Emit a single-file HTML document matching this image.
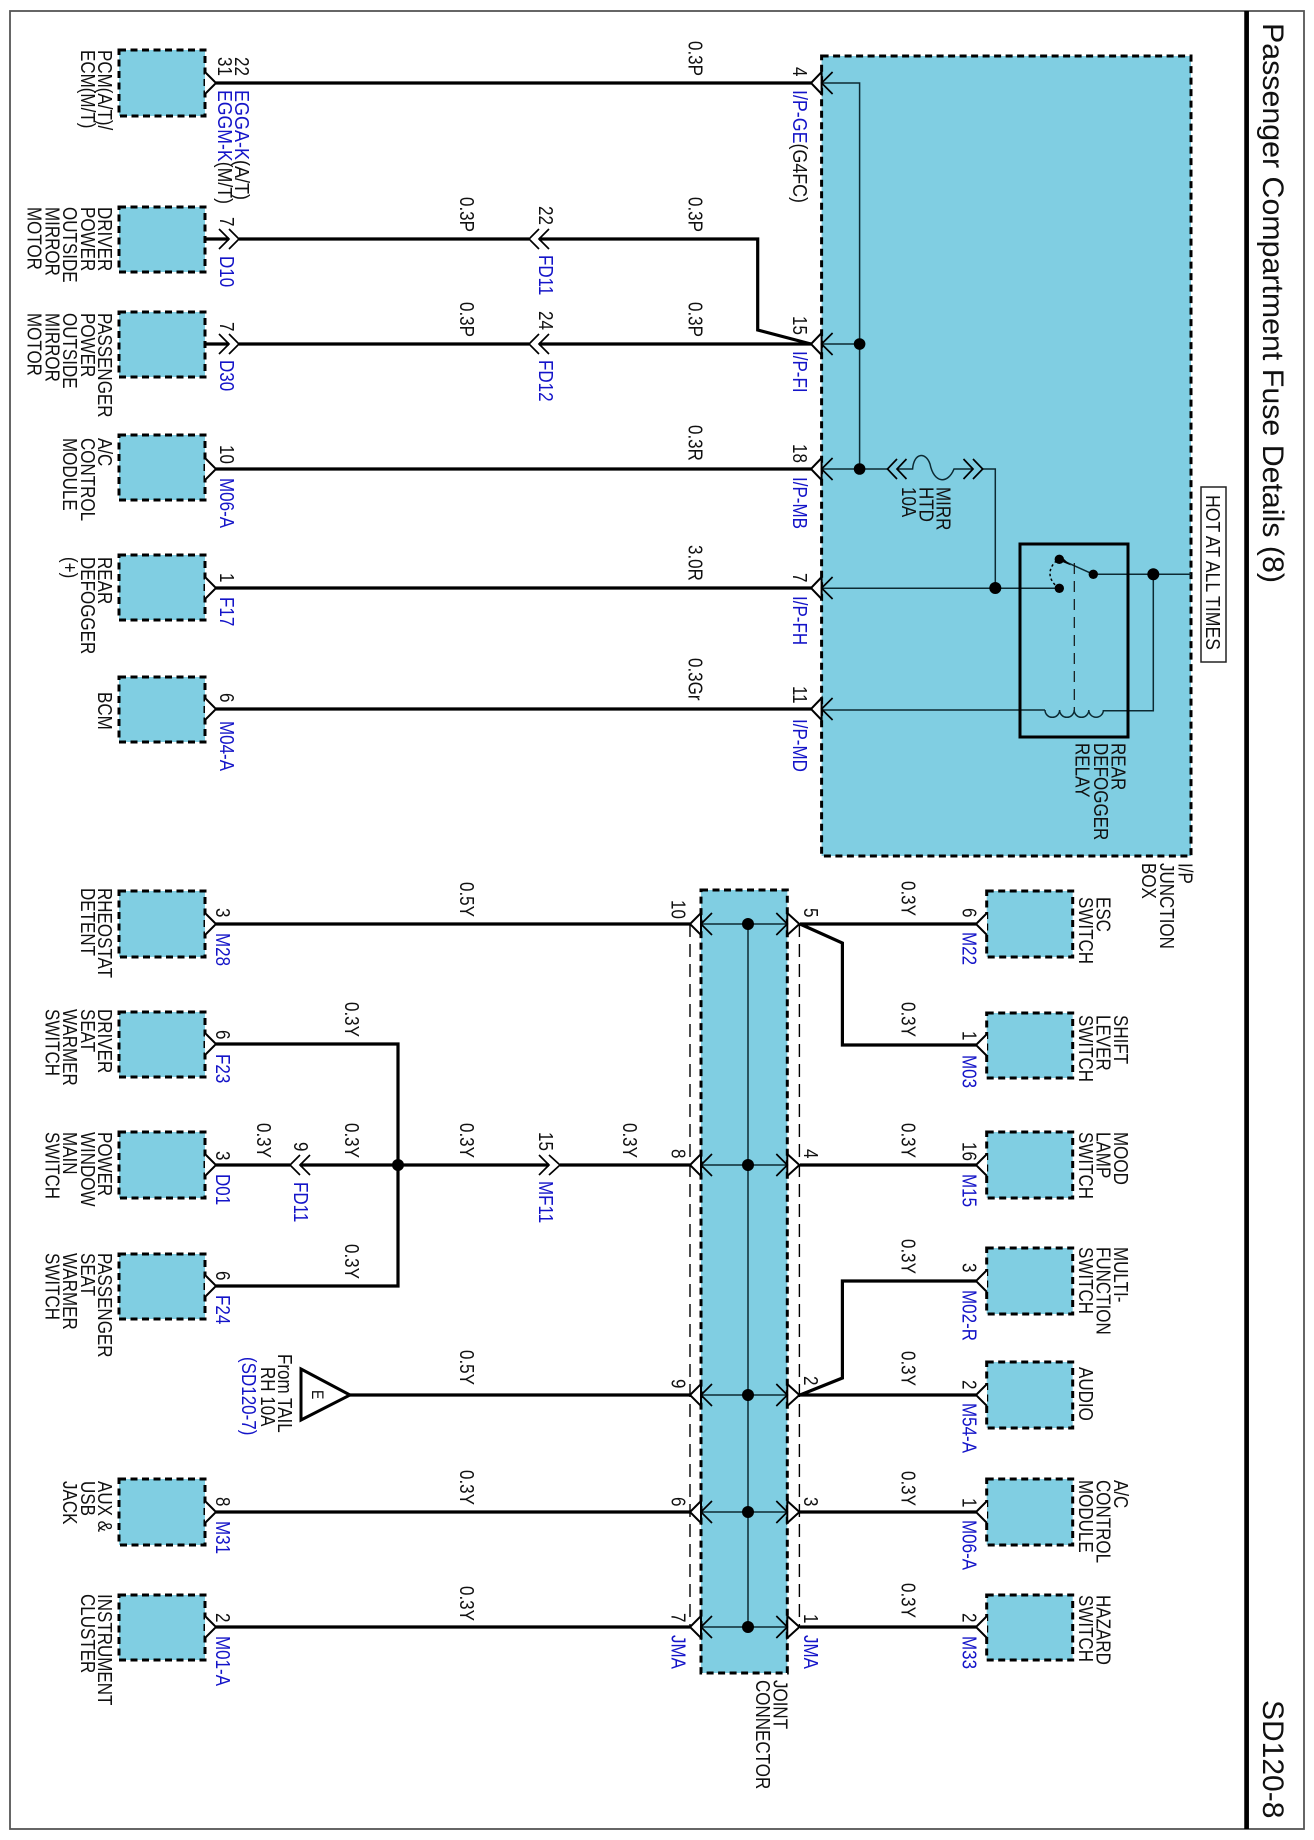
<!DOCTYPE html>
<html><head><meta charset="utf-8"><style>
html,body{margin:0;padding:0;background:#fff}
svg{display:block}
text{font-family:"Liberation Sans",sans-serif;font-size:17px;fill:#111;transform-box:fill-box;transform-origin:0 81%;transform:scale(1,1.17)}
.b,.b tspan{fill:#1414c8}
tspan.k{fill:#111}
text.t{font-size:30px;transform:none}
.box{fill:#80cee2;stroke:#000;stroke-width:3;stroke-dasharray:7 4.5}
.w{fill:none;stroke:#000;stroke-width:3.2}
.n{fill:none;stroke:#0c2a33;stroke-width:1.5}
.c{fill:none;stroke:#000;stroke-width:1.7}
.p{fill:#fff;stroke:#000;stroke-width:2}
</style></head><body>
<svg width="1314" height="1840" viewBox="0 0 1314 1840" xmlns="http://www.w3.org/2000/svg">
<rect width="1314" height="1840" fill="#fff"/>
<rect x="10" y="11" width="1294" height="1818" fill="none" stroke="#555" stroke-width="1.8"/>
<line x1="1246.6" y1="11" x2="1246.6" y2="1829" stroke="#000" stroke-width="4.7"/>

<!-- containers -->
<rect class="box" x="821.6" y="56" width="369.4" height="800"/>
<rect class="box" x="701" y="890" width="86.3" height="783"/>
<g>
<rect class="box" x="119" y="50" width="86" height="66"/>
<rect class="box" x="119" y="207" width="86" height="65"/>
<rect class="box" x="119" y="312" width="86" height="65"/>
<rect class="box" x="119" y="435" width="86" height="65"/>
<rect class="box" x="119" y="555" width="86" height="65"/>
<rect class="box" x="119" y="677" width="86" height="65"/>
<rect class="box" x="119" y="891" width="86" height="66"/>
<rect class="box" x="119" y="1012" width="86" height="65"/>
<rect class="box" x="119" y="1132" width="86" height="66"/>
<rect class="box" x="119" y="1254" width="86" height="65"/>
<rect class="box" x="119" y="1479" width="86" height="66"/>
<rect class="box" x="119" y="1595" width="86" height="65"/>
<rect class="box" x="986.7" y="891" width="86" height="66"/>
<rect class="box" x="986.7" y="1013" width="86" height="65"/>
<rect class="box" x="986.7" y="1132" width="86" height="66"/>
<rect class="box" x="986.7" y="1248" width="86" height="66"/>
<rect class="box" x="986.7" y="1362" width="86" height="66"/>
<rect class="box" x="986.7" y="1479" width="86" height="66"/>
<rect class="box" x="986.7" y="1595" width="86" height="65"/>
</g>

<!-- dashed shields of joint connector -->
<line x1="690" y1="924" x2="690" y2="1627" stroke="#000" stroke-width="1.4" stroke-dasharray="13 7"/>
<line x1="799.4" y1="924" x2="799.4" y2="1627" stroke="#000" stroke-width="1.4" stroke-dasharray="13 7"/>

<!-- thick wires -->
<g>
<path class="w" d="M216 83H811"/>
<path class="w" d="M205 239H229M239 239H529M539 239H757.7V330L811 344"/>
<path class="w" d="M205 344H229M239 344H529M539 344H811"/>
<path class="w" d="M216 469H811"/>
<path class="w" d="M216 588H811"/>
<path class="w" d="M216 709H811"/>
<path class="w" d="M216 924H690"/>
<path class="w" d="M216 1044H398V1286H216"/>
<path class="w" d="M216 1165H290M300 1165H549M560 1165H690"/>
<path class="w" d="M350 1395H690"/>
<path class="w" d="M216 1512H690"/>
<path class="w" d="M216 1627H690"/>
<path class="w" d="M800 924H976M800 924L842.4 943V1045H976"/>
<path class="w" d="M800 1165H976"/>
<path class="w" d="M976 1281H842.4V1378L800 1395"/>
<path class="w" d="M800 1395H976"/>
<path class="w" d="M800 1512H976"/>
<path class="w" d="M800 1627H976"/>
</g>

<!-- thin internal wires -->
<g>
<path class="n" d="M821.6 83H859.6V469"/>
<path class="n" d="M821.6 344H859.6"/>
<path class="n" d="M821.6 469H887.5"/>
<path class="n" d="M897 469H912.6C914 452 926 452 930 464C934 484 948 484 954 469H973"/>
<path class="n" d="M982.7 469H995.3V588"/>
<path class="n" d="M821.6 588.3H1059"/>
<path class="n" d="M1093.3 574.3H1191"/>
<path class="n" d="M1153.3 574.3V710.7H1103.3"/>
<path class="n" d="M821.6 710H1045"/>
<path class="n" d="M1045 710a7.3 7.3 0 0 0 14.6 0a7.3 7.3 0 0 0 14.6 0a7.3 7.3 0 0 0 14.6 0a7.3 7.3 0 0 0 14.6 0"/>
<path class="n" d="M1093.3 574.3L1060 559.3"/>
<path d="M1063 558L1071 565.5L1060 561Z" fill="#000"/>
<path d="M1074.3 563V710" fill="none" stroke="#111" stroke-width="1.2" stroke-dasharray="11 7"/>
<path d="M1059 588C1047 580 1047 567 1059 559" fill="none" stroke="#000" stroke-width="1.5" stroke-dasharray="2.5 2.5"/>
<rect x="1020" y="544" width="108" height="193" fill="none" stroke="#000" stroke-width="3"/>
<path class="n" d="M748 924V1627"/>
<path class="n" d="M701 924H787M701 1165H787M701 1395H787M701 1512H787M701 1627H787"/>
</g>

<!-- dots -->
<g fill="#000">
<circle cx="859.6" cy="344" r="5.8"/><circle cx="859.6" cy="469" r="5.8"/>
<circle cx="995.3" cy="588" r="6"/><circle cx="1059.3" cy="588.3" r="4.7"/>
<circle cx="1059.3" cy="559.3" r="4.7"/><circle cx="1093.3" cy="574.3" r="4.7"/><circle cx="1153.3" cy="574.3" r="6"/>
<circle cx="398" cy="1165" r="6"/>
<circle cx="748" cy="924" r="6"/><circle cx="748" cy="1165" r="6"/><circle cx="748" cy="1395" r="6"/><circle cx="748" cy="1512" r="6"/><circle cx="748" cy="1627" r="6"/>
</g>

<!-- module pins -->
<g>
<path class="p" d="M205 72L216 83L205 94"/>
<path class="p" d="M205 458L216 469L205 480"/>
<path class="p" d="M205 577L216 588L205 599"/>
<path class="p" d="M205 698L216 709L205 720"/>
<path class="p" d="M205 913L216 924L205 935"/>
<path class="p" d="M205 1033L216 1044L205 1055"/>
<path class="p" d="M205 1154L216 1165L205 1176"/>
<path class="p" d="M205 1275L216 1286L205 1297"/>
<path class="p" d="M205 1501L216 1512L205 1523"/>
<path class="p" d="M205 1616L216 1627L205 1638"/>
<path class="p" d="M987 913L976 924L987 935"/>
<path class="p" d="M987 1034L976 1045L987 1056"/>
<path class="p" d="M987 1154L976 1165L987 1176"/>
<path class="p" d="M987 1270L976 1281L987 1292"/>
<path class="p" d="M987 1384L976 1395L987 1406"/>
<path class="p" d="M987 1501L976 1512L987 1523"/>
<path class="p" d="M987 1616L976 1627L987 1638"/>
</g>

<!-- double chevrons -->
<g>
<path class="c" d="M219 229L229 239L219 249M229 229L239 239L229 249"/>
<path class="c" d="M219 334L229 344L219 354M229 334L239 344L229 354"/>
<path class="c" d="M539 229L529 239L539 249M549 229L539 239L549 249"/>
<path class="c" d="M539 334L529 344L539 354M549 334L539 344L549 354"/>
<path class="c" d="M300 1155L290 1165L300 1175M310 1155L300 1165L310 1175"/>
<path class="c" d="M539 1155L549 1165L539 1175M549 1155L560 1165L549 1175"/>
<path class="c" d="M897 459L887.5 469L897 479M906.5 459L897 469L906.5 479"/>
<path class="c" d="M963.5 459L973 469L963.5 479M973 459L982.7 469L973 479"/>
</g>

<!-- I/P box pins -->
<g>
<path class="p" d="M821.6 72L811 83L821.6 94Z"/><path class="c" d="M832.6 72L821.6 83L832.6 94"/>
<path class="p" d="M821.6 333L811 344L821.6 355Z"/><path class="c" d="M832.6 333L821.6 344L832.6 355"/>
<path class="p" d="M821.6 458L811 469L821.6 480Z"/><path class="c" d="M832.6 458L821.6 469L832.6 480"/>
<path class="p" d="M821.6 577L811 588L821.6 599Z"/><path class="c" d="M832.6 577L821.6 588L832.6 599"/>
<path class="p" d="M821.6 698L811 709L821.6 720Z"/><path class="c" d="M832.6 698L821.6 709L832.6 720"/>
</g>

<!-- joint pins -->
<g>
<path class="p" d="M701 913L690 924L701 935Z"/><path class="c" d="M712 913L701 924L712 935"/>
<path class="p" d="M701 1154L690 1165L701 1176Z"/><path class="c" d="M712 1154L701 1165L712 1176"/>
<path class="p" d="M701 1384L690 1395L701 1406Z"/><path class="c" d="M712 1384L701 1395L712 1406"/>
<path class="p" d="M701 1501L690 1512L701 1523Z"/><path class="c" d="M712 1501L701 1512L712 1523"/>
<path class="p" d="M701 1616L690 1627L701 1638Z"/><path class="c" d="M712 1616L701 1627L712 1638"/>
<path class="p" d="M787.3 913L799.4 924L787.3 935Z"/><path class="c" d="M776.3 913L787.3 924L776.3 935"/>
<path class="p" d="M787.3 1154L799.4 1165L787.3 1176Z"/><path class="c" d="M776.3 1154L787.3 1165L776.3 1176"/>
<path class="p" d="M787.3 1384L799.4 1395L787.3 1406Z"/><path class="c" d="M776.3 1384L787.3 1395L776.3 1406"/>
<path class="p" d="M787.3 1501L799.4 1512L787.3 1523Z"/><path class="c" d="M776.3 1501L787.3 1512L776.3 1523"/>
<path class="p" d="M787.3 1616L799.4 1627L787.3 1638Z"/><path class="c" d="M776.3 1616L787.3 1627L776.3 1638"/>
</g>

<!-- triangle E -->
<path d="M301 1369L350 1395L301 1420Z" fill="#fff" stroke="#000" stroke-width="3"/>
<rect x="1201" y="487" width="25" height="175" fill="#fff" stroke="#222" stroke-width="1.5"/>

<!-- all text rotated: x=screenY, y=-screenX -->
<g transform="rotate(90)">
<text class="t" x="23" y="-1263" textLength="560" lengthAdjust="spacingAndGlyphs">Passenger Compartment Fuse Details (8)</text>
<text class="t" x="1700" y="-1263">SD120-8</text>
<text x="495" y="-1206" textLength="155" lengthAdjust="spacingAndGlyphs">HOT AT ALL TIMES</text>

<!-- left module labels -->
<text x="50" y="-98">PCM(A/T)/</text><text x="50" y="-81">ECM(M/T)</text>
<text x="207" y="-98">DRIVER</text><text x="207" y="-81">POWER</text><text x="207" y="-63">OUTSIDE</text><text x="207" y="-45.5">MIRROR</text><text x="207" y="-27.5">MOTOR</text>
<text x="313" y="-98">PASSENGER</text><text x="313" y="-81">POWER</text><text x="313" y="-63">OUTSIDE</text><text x="313" y="-45.5">MIRROR</text><text x="313" y="-27.5">MOTOR</text>
<text x="438" y="-98">A/C</text><text x="438" y="-81">CONTROL</text><text x="438" y="-63">MODULE</text>
<text x="557" y="-98">REAR</text><text x="557" y="-81">DEFOGGER</text><text x="557" y="-63">(+)</text>
<text x="692" y="-98">BCM</text>
<text x="888" y="-98">RHEOSTAT</text><text x="888" y="-81">DETENT</text>
<text x="1009" y="-98">DRIVER</text><text x="1009" y="-81">SEAT</text><text x="1009" y="-63">WARMER</text><text x="1009" y="-45.5">SWITCH</text>
<text x="1132" y="-98">POWER</text><text x="1132" y="-81">WINDOW</text><text x="1132" y="-63">MAIN</text><text x="1132" y="-45.5">SWITCH</text>
<text x="1253" y="-98">PASSENGER</text><text x="1253" y="-81">SEAT</text><text x="1253" y="-63">WARMER</text><text x="1253" y="-45.5">SWITCH</text>
<text x="1481" y="-98">AUX &amp;</text><text x="1481" y="-81">USB</text><text x="1481" y="-63">JACK</text>
<text x="1594" y="-98">INSTRUMENT</text><text x="1594" y="-81">CLUSTER</text>

<!-- right module labels -->
<text x="897" y="-1096.7">ESC</text><text x="897" y="-1079">SWITCH</text>
<text x="1015" y="-1114">SHIFT</text><text x="1015" y="-1096.7">LEVER</text><text x="1015" y="-1079">SWITCH</text>
<text x="1132" y="-1114">MOOD</text><text x="1132" y="-1096.7">LAMP</text><text x="1132" y="-1079">SWITCH</text>
<text x="1247" y="-1114">MULTI-</text><text x="1247" y="-1096.7">FUNCTION</text><text x="1247" y="-1079">SWITCH</text>
<text x="1367" y="-1079">AUDIO</text>
<text x="1480" y="-1114">A/C</text><text x="1480" y="-1096.7">CONTROL</text><text x="1480" y="-1079">MODULE</text>
<text x="1595" y="-1096.7">HAZARD</text><text x="1595" y="-1079">SWITCH</text>

<!-- container labels -->
<text x="863" y="-1178.5">I/P</text><text x="863" y="-1160">JUNCTION</text><text x="863" y="-1142">BOX</text>
<text x="1680" y="-773.6">JOINT</text><text x="1680" y="-756">CONNECTOR</text>
<text x="743" y="-1111.7">REAR</text><text x="743" y="-1094">DEFOGGER</text><text x="743" y="-1075.4">RELAY</text>
<text x="487" y="-936.4">MIRR</text><text x="487" y="-919.7">HTD</text><text x="487" y="-902.2">10A</text>

<!-- left pin numbers / connector ids -->
<text x="57" y="-235">22</text><text x="57" y="-218">31</text>
<text class="b" x="90" y="-235" textLength="110" lengthAdjust="spacingAndGlyphs">EGGA-K<tspan class="k">(A/T)</tspan></text>
<text class="b" x="90" y="-218" textLength="114" lengthAdjust="spacingAndGlyphs">EGGM-K<tspan class="k">(M/T)</tspan></text>
<text x="217" y="-220">7</text><text class="b" x="256" y="-220">D10</text>
<text x="322" y="-220">7</text><text class="b" x="360" y="-220">D30</text>
<text x="445" y="-220">10</text><text class="b" x="478" y="-220">M06-A</text>
<text x="573" y="-220">1</text><text class="b" x="597" y="-220">F17</text>
<text x="693" y="-220">6</text><text class="b" x="721" y="-220">M04-A</text>
<text x="908" y="-216">3</text><text class="b" x="933" y="-216">M28</text>
<text x="1030" y="-216">6</text><text class="b" x="1054" y="-216">F23</text>
<text x="1151" y="-216">3</text><text class="b" x="1174" y="-216">D01</text>
<text x="1271" y="-216">6</text><text class="b" x="1295" y="-216">F24</text>
<text x="1497" y="-216">8</text><text class="b" x="1521" y="-216">M31</text>
<text x="1613" y="-216">2</text><text class="b" x="1636" y="-216">M01-A</text>

<!-- inline connectors -->
<text x="206" y="-539">22</text><text class="b" x="255" y="-539">FD11</text>
<text x="311" y="-539">24</text><text class="b" x="360" y="-539">FD12</text>
<text x="1142" y="-294">9</text><text class="b" x="1182" y="-294">FD11</text>
<text x="1132" y="-539">15</text><text class="b" x="1181" y="-539">MF11</text>

<!-- wire specs -->
<text x="197" y="-460">0.3P</text><text x="302" y="-460">0.3P</text>
<text x="41" y="-688.4">0.3P</text><text x="197" y="-688.4">0.3P</text><text x="302" y="-688.4">0.3P</text>
<text x="425" y="-688.4">0.3R</text><text x="545" y="-688.4">3.0R</text><text x="658" y="-688.4">0.3Gr</text>
<text x="882" y="-460">0.5Y</text>
<text x="1002" y="-345">0.3Y</text><text x="1123" y="-345">0.3Y</text><text x="1244" y="-345">0.3Y</text>
<text x="1123" y="-257">0.3Y</text><text x="1123" y="-460">0.3Y</text><text x="1123" y="-623">0.3Y</text>
<text x="1350" y="-460">0.5Y</text><text x="1470" y="-460">0.3Y</text><text x="1586" y="-460">0.3Y</text>
<text x="881" y="-901.3">0.3Y</text><text x="1002" y="-901.3">0.3Y</text><text x="1123" y="-901.3">0.3Y</text><text x="1239" y="-901.3">0.3Y</text>
<text x="1351" y="-901.3">0.3Y</text><text x="1471" y="-901.3">0.3Y</text><text x="1583" y="-901.3">0.3Y</text>

<!-- I/P pins -->
<text x="67" y="-792.8">4</text><text class="b" x="90" y="-792.8" textLength="113" lengthAdjust="spacingAndGlyphs">I/P-GE<tspan class="k">(G4FC)</tspan></text>
<text x="316" y="-792.8">15</text><text class="b" x="351" y="-792.8">I/P-FI</text>
<text x="444" y="-792.8">18</text><text class="b" x="477" y="-792.8">I/P-MB</text>
<text x="573" y="-792.8">7</text><text class="b" x="596" y="-792.8">I/P-FH</text>
<text x="686" y="-792.8">11</text><text class="b" x="719" y="-792.8">I/P-MD</text>

<!-- joint pins -->
<text x="900" y="-671.7">10</text><text x="1149" y="-671.7">8</text><text x="1379" y="-671.7">9</text><text x="1497" y="-671.7">6</text><text x="1613" y="-671.7">7</text>
<text class="b" x="1635" y="-671.7">JMA</text>
<text x="908" y="-804">5</text><text x="1149" y="-804">4</text><text x="1376" y="-804">2</text><text x="1497" y="-804">3</text><text x="1614" y="-804">1</text>
<text class="b" x="1635" y="-804">JMA</text>

<!-- right pins -->
<text x="908" y="-962.5">6</text><text class="b" x="932" y="-962.5">M22</text>
<text x="1031" y="-962.5">1</text><text class="b" x="1055" y="-962.5">M03</text>
<text x="1142" y="-962.5">16</text><text class="b" x="1174" y="-962.5">M15</text>
<text x="1263" y="-962.5">3</text><text class="b" x="1290" y="-962.5">M02-R</text>
<text x="1380" y="-962.5">2</text><text class="b" x="1403" y="-962.5">M54-A</text>
<text x="1498" y="-962.5">1</text><text class="b" x="1520" y="-962.5">M06-A</text>
<text x="1613" y="-962.5">2</text><text class="b" x="1636" y="-962.5">M33</text>

<!-- From TAIL -->
<text x="1354" y="-278">From TAIL</text>
<text x="1367" y="-261">RH 10A</text>
<text class="b" x="1357" y="-242">(SD120-7)</text>
<text x="1390" y="-312" style="font-size:14px">E</text>
</g>
</svg>
</body></html>
